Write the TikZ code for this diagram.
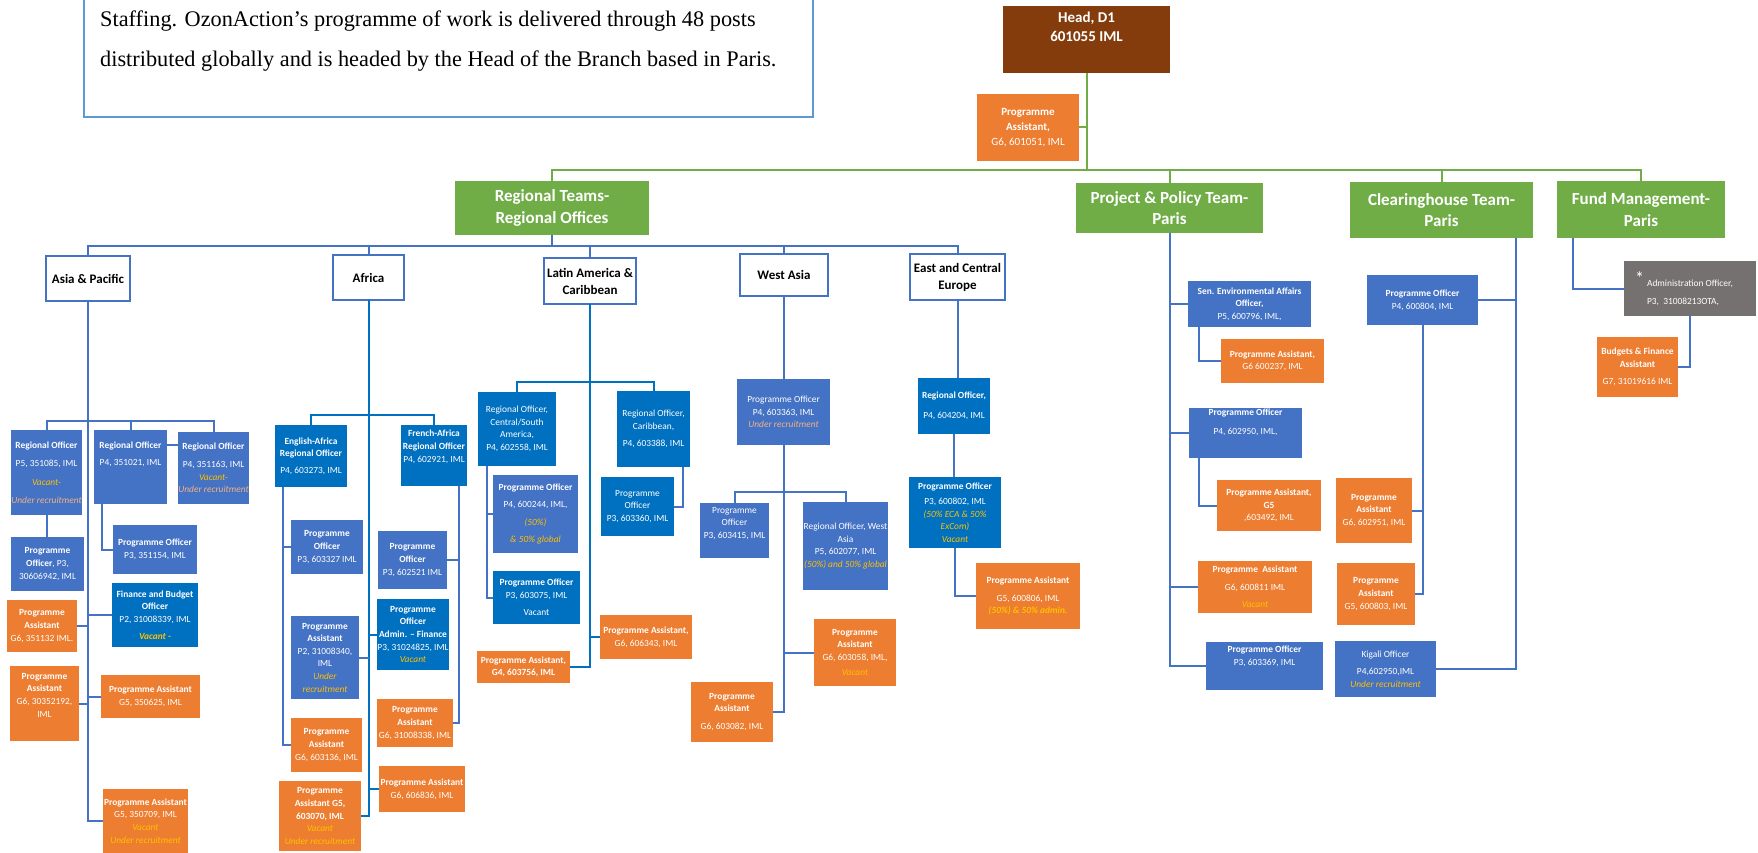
\documentclass[tikz,border=0pt]{standalone}
\usepackage{fontspec}
\setmainfont{Carlito}
\newfontfamily\tnr{Liberation Serif}
\usetikzlibrary{calc}
\definecolor{mblue}{HTML}{4472C4}
\definecolor{dblue}{HTML}{0070C0}
\definecolor{orng}{HTML}{ED7D31}
\definecolor{grn}{HTML}{70AD47}
\definecolor{brwn}{HTML}{843C0C}
\definecolor{gry}{HTML}{767171}
\definecolor{gold}{HTML}{FFC000}
\definecolor{tanc}{HTML}{F4B183}
\definecolor{tbord}{HTML}{5B9BD5}
\newcommand\gi[1]{\textcolor{gold}{\itshape #1}}
\newcommand\ti[1]{\textcolor{tanc}{\itshape #1}}
\newcommand\fs{\fontsize{9.4}{12.6}\selectfont}
\newcommand\bx[7]{\node[#2, minimum width={(#5-#3)*1pt}, minimum height={(#6-#4)*1pt}] (#1) at ({(#3+#5)/2},{(#4+#6)/2}) {#7};}
\tikzset{
 card/.style={inner sep=0pt, outer sep=0pt, align=center, text=white, font=\fs},
 mb/.style={card, fill=mblue},
 db/.style={card, fill=dblue},
 ob/.style={card, fill=orng},
 gyb/.style={card, fill=gry},
 gb/.style={card, fill=grn, font=\fontsize{17}{21.5}\selectfont\bfseries},
 reg/.style={inner sep=0pt, outer sep=0pt, align=center, fill=white, draw=mblue, line width=2pt, font=\fontsize{13}{17}\selectfont\bfseries},
 ln/.style={draw=mblue, line width=2pt},
 ln2/.style={draw=dblue, line width=2pt},
 gln/.style={draw=grn, line width=2pt},
}
\begin{document}
\begin{tikzpicture}[x=1pt,y=-1pt]
\useasboundingbox (0,0) rectangle (1758,853);
\fill[white] (0,0) rectangle (1758,853);
\clip (0,0) rectangle (1758,853);

% ---------- intro text box ----------
\node[draw=tbord, line width=1.5pt, fill=white, inner sep=0pt, outer sep=0pt, minimum width=729pt, minimum height=130pt] (tb) at (448.5,52) {};
\node[anchor=north west, inner sep=0pt, align=left, font=\tnr\fontsize{22.3}{39.5}\selectfont] (tbt) at (100,11) {Staffing. OzonAction’s programme of work is delivered through 48 posts\\ distributed globally and is headed by the Head of the Branch based in Paris.};

% ---------- top level ----------
\bx{head}{card, fill=brwn, font=\fontsize{15}{19}\selectfont\bfseries}{1003}{6}{1170}{73}{Head, D1\\ 601055 IML\\[6pt]~}
\bx{hpa}{ob, font=\fontsize{11}{15}\selectfont}{977}{94}{1079}{161}{\textbf{Programme}\\ \textbf{Assistant,}\\ G6, 601051, IML}
\bx{rt}{gb}{455}{181}{649}{235}{Regional Teams-\\ Regional Offices}
\bx{pp}{gb}{1076}{183}{1263}{233}{Project \& Policy Team-\\ Paris}
\bx{ch}{gb}{1350}{182}{1533}{238}{Clearinghouse Team-\\ Paris}
\bx{fm}{gb}{1557}{181}{1725}{238}{Fund Management-\\ Paris}

\coordinate (gbus) at (0,170);
\draw[gln] (head.south) -- (head.south |- gbus);
\draw[gln] (hpa.east) -- (hpa.east -| head.south);
\draw[gln] (rt.north) |- (fm.north |- gbus) -- (fm.north);
\draw[gln] (pp.north) -- (pp.north |- gbus);
\draw[gln] (ch.north) -- (ch.north |- gbus);

% ---------- regions ----------
\bx{asia}{reg}{46}{256}{130}{301}{Asia \& Pacific}
\bx{afr}{reg}{333}{255}{404}{300}{Africa}
\bx{lac}{reg}{544}{258}{636}{304}{Latin America \&\\ Caribbean}
\bx{wa}{reg}{740}{254}{828}{296}{West Asia}
\bx{ece}{reg}{910}{254}{1005}{300}{East and Central\\ Europe}

\coordinate (bbus) at (0,246);
\draw[ln] (rt.south) -- (rt.south |- bbus);
\draw[ln] (asia.north) |- (ece.north |- bbus) -- (ece.north);
\draw[ln] (afr.north) -- (afr.north |- bbus);
\draw[ln] (lac.north) -- (lac.north |- bbus);
\draw[ln] (wa.north) -- (wa.north |- bbus);

% ---------- Asia & Pacific ----------
\bx{ro1}{mb}{11}{430}{82}{515}{\textbf{Regional Officer}\\[6pt] P5, 351085, IML\\[6pt] \gi{Vacant-}\\[5pt] \ti{Under recruitment}}
\bx{ro2}{mb}{94}{430}{167}{504}{\textbf{Regional Officer}\\[5pt] P4, 351021, IML\\[14pt]~}
\bx{ro3}{mb}{178}{432}{249}{504}{\textbf{Regional Officer}\\[5pt] P4, 351163, IML\\ \gi{Vacant-}\\ \ti{Under recruitment}}
\bx{po1}{mb}{11}{537}{84}{591}{\textbf{Programme}\\ \textbf{Officer}, P3,\\ 30606942, IML}
\bx{po2}{mb}{113}{525}{197}{574}{\textbf{Programme Officer}\\ P3, 351154, IML}
\bx{fbo}{db}{112}{583}{198}{647}{\textbf{Finance and Budget}\\ \textbf{Officer}\\ P2, 31008339, IML\\[4pt] \textbf{\gi{Vacant -}}}
\bx{pa1}{ob}{7}{600}{77}{652}{\textbf{Programme}\\ \textbf{Assistant}\\ G6, 351132 IML.}
\bx{pa2}{ob}{10}{666}{79}{741}{\textbf{Programme}\\ \textbf{Assistant}\\ G6, 30352192,\\ IML\\[4pt]~}
\bx{pa3}{ob}{101}{675}{200}{718}{\textbf{Programme Assistant}\\ G5, 350625, IML}
\bx{pa4}{ob}{103}{789}{188}{853}{\textbf{Programme Assistant}\\ G5, 350709, IML\\ \gi{Vacant}\\ \gi{Under recruitment}}

\coordinate (abus) at (0,421);
\draw[ln] (asia.south) |- (pa4.west);
\draw[ln] (ro1.north) |- (ro3.north |- abus) -- (ro3.north);
\draw[ln] (ro2.north) -- (ro2.north |- abus);
\draw[ln] ([yshift=-15pt]ro2.north east) -- ([yshift=-15pt]ro2.north east -| ro3.west);
\draw[ln] (ro1.south) -- (ro1.south |- po1.north);
\coordinate (r2v) at ([xshift=8pt]ro2.south west);
\draw[ln] (r2v) |- (po2.west);
\draw[ln] (fbo.west -| asia.south) -- (fbo.west);
\draw[ln] (pa1.east) -- (pa1.east -| asia.south);
\draw[ln] (pa2.east) -- (pa2.east -| asia.south);
\draw[ln] (pa3.west -| asia.south) -- (pa3.west);

% ---------- Africa ----------
\bx{earo}{db}{275}{425}{347}{487}{\textbf{English-Africa}\\ \textbf{Regional Officer}\\[4pt] P4, 603273, IML}
\bx{faro}{db}{401}{425}{467}{486}{\textbf{French-Africa}\\ \textbf{Regional Officer}\\ P4, 602921, IML\\[6pt]~}
\bx{apo1}{mb}{291}{520}{363}{574}{\textbf{Programme}\\ \textbf{Officer}\\ P3, 603327 IML}
\bx{apa1}{mb}{291}{616}{359}{699}{\textbf{Programme}\\ \textbf{Assistant}\\ P2, 31008340,\\ IML\\ \gi{Under}\\ \gi{recruitment}}
\bx{apa2}{ob}{291}{718}{362}{772}{\textbf{Programme}\\ \textbf{Assistant}\\ G6, 603136, IML}
\bx{apa3}{ob}{279}{781}{361}{851}{\textbf{Programme}\\ \textbf{Assistant G5,}\\ \textbf{603070, IML}\\ \gi{Vacant}\\ \gi{Under recruitment}}
\bx{apo2}{mb}{378}{531}{447}{589}{\textbf{Programme}\\ \textbf{Officer}\\ P3, 602521 IML}
\bx{apo3}{db}{378}{599}{448}{670}{\textbf{Programme}\\ \textbf{Officer}\\ \textbf{Admin. – Finance}\\ P3, 31024825, IML\\ \gi{Vacant}}
\bx{apa4}{ob}{377}{699}{453}{747}{\textbf{Programme}\\ \textbf{Assistant}\\ G6, 31008338, IML}
\bx{apa5}{ob}{379}{766}{465}{812}{\textbf{Programme Assistant}\\ G6, 606836, IML}

\coordinate (afbus) at (0,415);
\draw[ln2] (afr.south) |- (apa3.east);
\draw[ln2] (earo.north) |- (faro.north |- afbus) -- (faro.north);
\coordinate (eav) at ([xshift=8pt]earo.south west);
\draw[ln] (eav) |- (apa2.west);
\draw[ln] (eav |- apo1.west) -- (apo1.west);
\draw[ln] (apa1.east) -- (apa1.east -| afr.south);
\draw[ln2] (apo3.west -| afr.south) -- (apo3.west);
\draw[ln2] (apa5.west -| afr.south) -- (apa5.west);
\coordinate (fav) at ([xshift=-8pt]faro.south east);
\draw[ln] (fav) |- (apa4.east);
\draw[ln] (apo2.east) -- (apo2.east -| fav);

% ---------- Latin America & Caribbean ----------
\bx{lro1}{db}{478}{392}{556}{466}{Regional Officer,\\ Central/South\\ America,\\ P4, 602558, IML}
\bx{lpo1}{mb}{493}{475}{578}{553}{\textbf{Programme Officer}\\[5pt] P4, 600244, IML,\\[5pt] \gi{(50\%)}\\[5pt] \gi{\& 50\% global}}
\bx{lpo2}{db}{493}{571}{580}{624}{\textbf{Programme Officer}\\ P3, 603075, IML\\[5pt] Vacant}
\bx{lro2}{db}{617}{391}{690}{467}{Regional Officer,\\ Caribbean,\\[5pt] P4, 603388, IML}
\bx{lpo3}{db}{601}{477}{674}{536}{Programme\\ Officer\\ P3, 603360, IML}
\bx{lpa1}{ob}{600}{615}{692}{659}{\textbf{Programme Assistant,}\\ G6, 606343, IML}
\bx{lpa2}{ob}{477}{651}{570}{683}{\textbf{Programme Assistant,}\\ \textbf{G4, 603756, IML}}

\coordinate (labus) at (0,382);
\draw[ln2] (lac.south) |- (lpa2.east);
\draw[ln2] (lpa1.west -| lac.south) -- (lpa1.west);
\draw[ln2] (lro1.north) |- (lro2.north |- labus) -- (lro2.north);
\coordinate (lav) at ([xshift=9pt]lro1.south west);
\draw[ln] (lav) |- (lpo2.west);
\draw[ln] (lav |- lpo1.west) -- (lpo1.west);
\coordinate (lcv) at ([xshift=-7pt]lro2.south east);
\draw[ln] (lcv) |- (lpo3.east);

% ---------- West Asia ----------
\bx{wpo1}{mb}{737}{379}{830}{445}{Programme Officer\\ P4, 603363, IML\\ \ti{Under recruitment}}
\bx{wpo2}{mb}{700}{503}{769}{558}{Programme\\ Officer\\ P3, 603415, IML\\[3pt]~}
\bx{wro}{mb}{803}{502}{888}{590}{Regional Officer, West\\ Asia\\ P5, 602077, IML\\ \gi{(50\%) and 50\% global}}
\bx{wpa1}{ob}{814}{619}{896}{686}{\textbf{Programme}\\ \textbf{Assistant}\\ G6, 603058, IML,\\[3pt] \gi{Vacant}}
\bx{wpa2}{ob}{691}{682}{773}{742}{\textbf{Programme}\\ \textbf{Assistant}\\[5pt] G6, 603082, IML}

\coordinate (wabus) at (0,492);
\draw[ln] (wa.south) -- (wa.south |- wpo1.north);
\draw[ln] (wpo1.south) |- (wpa2.east);
\draw[ln] (wpo2.north) |- (wro.north |- wabus) -- (wro.north);
\draw[ln] (wpa1.west -| wpo1.south) -- (wpa1.west);

% ---------- East and Central Europe ----------
\bx{ero}{db}{918}{378}{990}{434}{\textbf{Regional Officer,}\\[7pt] P4, 604204, IML}
\bx{epo}{db}{909}{477}{1001}{548}{\textbf{Programme Officer}\\[3pt] P3, 600802, IML\\ \gi{(50\% ECA \& 50\%}\\ \gi{ExCom)}\\ \gi{Vacant}}
\bx{epa}{ob}{976}{563}{1080}{629}{\textbf{Programme Assistant}\\[5pt] G5, 600806, IML\\ \textbf{\gi{(50\%) \& 50\% admin.}}}

\draw[ln] (ece.south) -- (ece.south |- ero.north);
\draw[ln] (ero.south) -- (ero.south |- epo.north);
\draw[ln] (epo.south) |- (epa.west);

% ---------- Project & Policy ----------
\bx{ppo1}{mb}{1188}{281}{1311}{327}{\textbf{Sen. Environmental Affairs}\\ \textbf{Officer,}\\ P5, 600796, IML,}
\bx{ppa1}{ob}{1221}{339}{1324}{383}{\textbf{Programme Assistant,}\\ G6 600237, IML}
\bx{ppo2}{mb}{1189}{408}{1302}{458}{\textbf{Programme Officer}\\[6pt] P4, 602950, IML,\\[10pt]~}
\bx{ppa2}{ob}{1217}{480}{1321}{531}{\textbf{Programme Assistant,}\\ \textbf{G5}\\ ,603492, IML}
\bx{ppa3}{ob}{1198}{561}{1312}{613}{\textbf{Programme\ \ Assistant}\\[5pt] G6, 600811 IML\\[5pt] \gi{Vacant}}
\bx{ppo3}{mb}{1206}{642}{1323}{690}{\textbf{Programme Officer}\\ P3, 603369, IML\\[8pt]~}

\draw[ln] (pp.south) |- (ppo3.west);
\draw[ln] (ppo1.west -| pp.south) -- (ppo1.west);
\draw[ln] (ppo2.west -| pp.south) -- (ppo2.west);
\draw[ln] (ppa3.west -| pp.south) -- (ppa3.west);
\coordinate (pv1) at ([xshift=11pt]ppo1.south west);
\draw[ln] (pv1) |- (ppa1.west);
\coordinate (pv2) at ([xshift=10pt]ppo2.south west);
\draw[ln] (pv2) |- (ppa2.west);

% ---------- Clearinghouse ----------
\bx{cpo1}{mb}{1367}{275}{1478}{325}{\textbf{Programme Officer}\\ P4, 600804, IML}
\bx{cpa1}{ob}{1336}{478}{1412}{543}{\textbf{Programme}\\ \textbf{Assistant}\\ G6, 602951, IML}
\bx{cpa2}{ob}{1337}{563}{1415}{625}{\textbf{Programme}\\ \textbf{Assistant}\\ G5, 600803, IML}
\bx{kig}{mb}{1335}{641}{1436}{697}{Kigali Officer\\[5pt] P4,602950,IML\\ \gi{Under recruitment}}

\coordinate (chv) at ([xshift=-17pt]ch.south east);
\draw[ln] (chv) |- (kig.east);
\draw[ln] (cpo1.east) -- (cpo1.east -| chv);
\draw[ln] (cpo1.south) |- (cpa2.east);
\draw[ln] (cpa1.east) -- (cpa1.east -| cpo1.south);

% ---------- Fund Management ----------
\bx{adm}{gyb, align=left}{1624}{261}{1756}{316}{\llap{\raisebox{2pt}{\fontsize{18}{18}\selectfont *}\hspace{3pt}}Administration Officer,\\[5pt] P3,\ \ 31008213OTA,}
\bx{bfa}{ob}{1597}{337}{1678}{397}{\textbf{Budgets \& Finance}\\ \textbf{Assistant}\\[5pt] G7, 31019616 IML}

\coordinate (fmv) at ([xshift=16pt]fm.south west);
\draw[ln] (fmv) |- (adm.west);
\draw[ln] (adm.south) |- (bfa.east);
\end{tikzpicture}
\end{document}
